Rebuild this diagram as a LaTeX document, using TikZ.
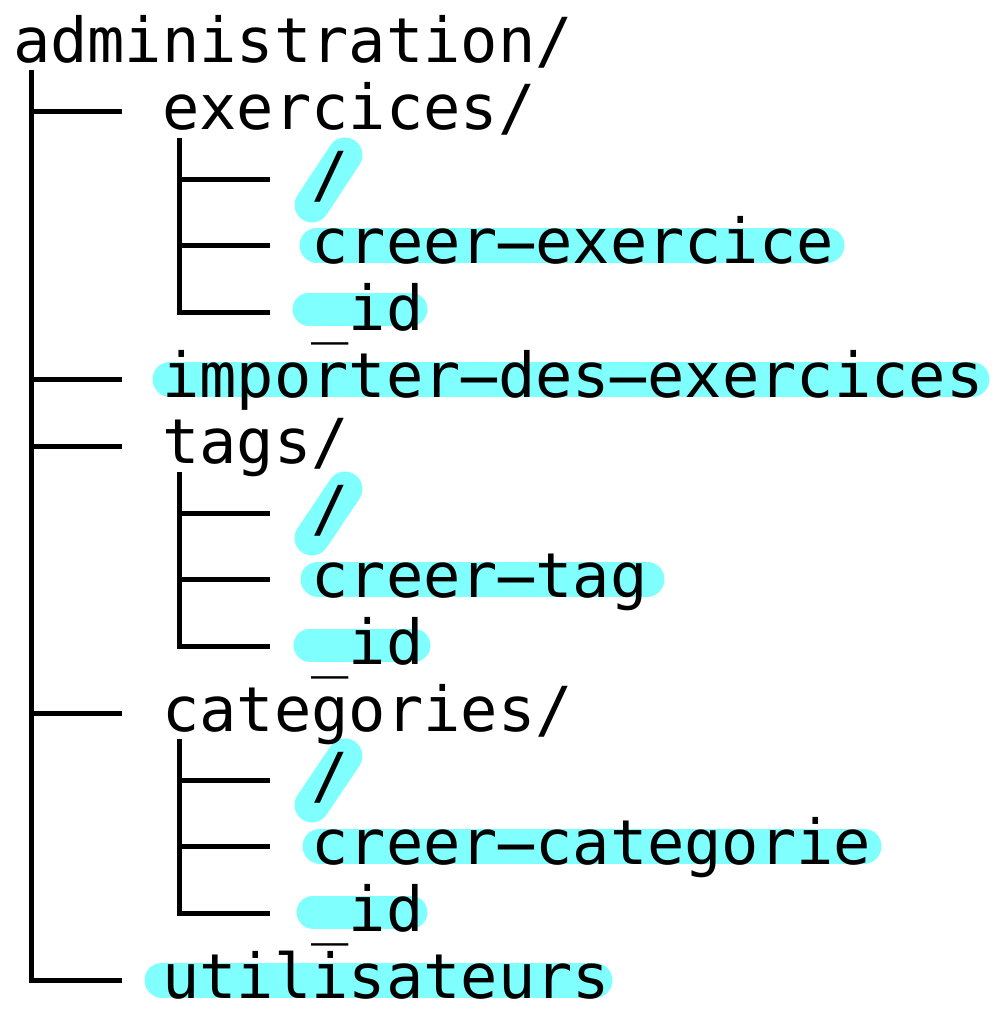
\documentclass[tikz,border=0pt]{standalone}
\usepackage{fontspec}
\usepackage{graphicx}
\setmonofont{DejaVu Sans Mono}
\definecolor{hlc}{RGB}{128,255,255}
\newcommand\hy{\makebox[0.602em][c]{\scalebox{2.3}[1]{-}}}
\begin{document}
\begin{tikzpicture}[x=0.5pt,y=-0.5pt,
  lbl/.style={inner sep=0pt, outer sep=0pt, anchor=base west, font=\ttfamily\fontsize{31pt}{31pt}\selectfont},
  tree/.style={line width=2.5pt, line join=miter},
  hilite/.style={line width=17.5pt, line cap=round, draw=hlc}]
\useasboundingbox (0,0) rectangle (1000,1022);
% highlights
\draw[hilite] (312,205) -- (345,155);
\draw[hilite] (317,245) -- (827,245);
\draw[hilite,line width=16.5pt] (309,309) -- (411,309);
\draw[hilite] (170,379) -- (972,379);
\draw[hilite] (312,538) -- (345,489);
\draw[hilite] (318,579) -- (647,579);
\draw[hilite,line width=16.5pt] (310,645) -- (414,645);
\draw[hilite] (312,805) -- (345,756);
\draw[hilite] (320,846) -- (864,846);
\draw[hilite,line width=16.5pt] (313,912) -- (411,912);
\draw[hilite] (162,980) -- (595,980);
% text
\node[lbl] (admin) at (13,63) {administration/};
\node[lbl] (exe) at (162.2,129.8) {exercices/};
\node[lbl] (exe1) at (311.4,196.6) {/};
\node[lbl] (exe2) at (311.4,263.4) {creer\hy exercice};
\node[lbl] (exe3) at (311.4,330.2) {\_id};
\node[lbl] (imp) at (162.2,397) {importer\hy des\hy exercices};
\node[lbl] (tags) at (162.2,463.8) {tags/};
\node[lbl] (tag1) at (311.4,530.6) {/};
\node[lbl] (tag2) at (311.4,597.4) {creer\hy tag};
\node[lbl] (tag3) at (311.4,664.2) {\_id};
\node[lbl] (cat) at (162.2,731) {categories/};
\node[lbl] (cat1) at (311.4,797.8) {/};
\node[lbl] (cat2) at (311.4,864.6) {creer\hy categorie};
\node[lbl] (cat3) at (311.4,931.4) {\_id};
\node[lbl] (usr) at (162.2,998.2) {utilisateurs};
% tree coordinates
\coordinate (rt) at (31,70);
\coordinate (r-exe) at (122,112);
\coordinate (r-imp) at (122,379);
\coordinate (r-tags) at (122,446);
\coordinate (r-cat) at (122,713);
\coordinate (r-usr) at (122,980);
\coordinate (et) at (179,138);
\coordinate (e1) at (270,179);
\coordinate (e2) at (270,245);
\coordinate (e3) at (270,312);
\coordinate (tt) at (179,472);
\coordinate (t1) at (270,513);
\coordinate (t2) at (270,579);
\coordinate (t3) at (270,646);
\coordinate (ct) at (179,739);
\coordinate (c1) at (270,780);
\coordinate (c2) at (270,846);
\coordinate (c3) at (270,913);
% tree
\draw[tree] (rt) |- (r-usr);
\foreach \b in {r-exe,r-imp,r-tags,r-cat} \draw[tree] (rt |- \b) -- (\b);
\draw[tree] (et) |- (e3);
\foreach \b in {e1,e2} \draw[tree] (et |- \b) -- (\b);
\draw[tree] (tt) |- (t3);
\foreach \b in {t1,t2} \draw[tree] (tt |- \b) -- (\b);
\draw[tree] (ct) |- (c3);
\foreach \b in {c1,c2} \draw[tree] (ct |- \b) -- (\b);
\end{tikzpicture}
\end{document}
